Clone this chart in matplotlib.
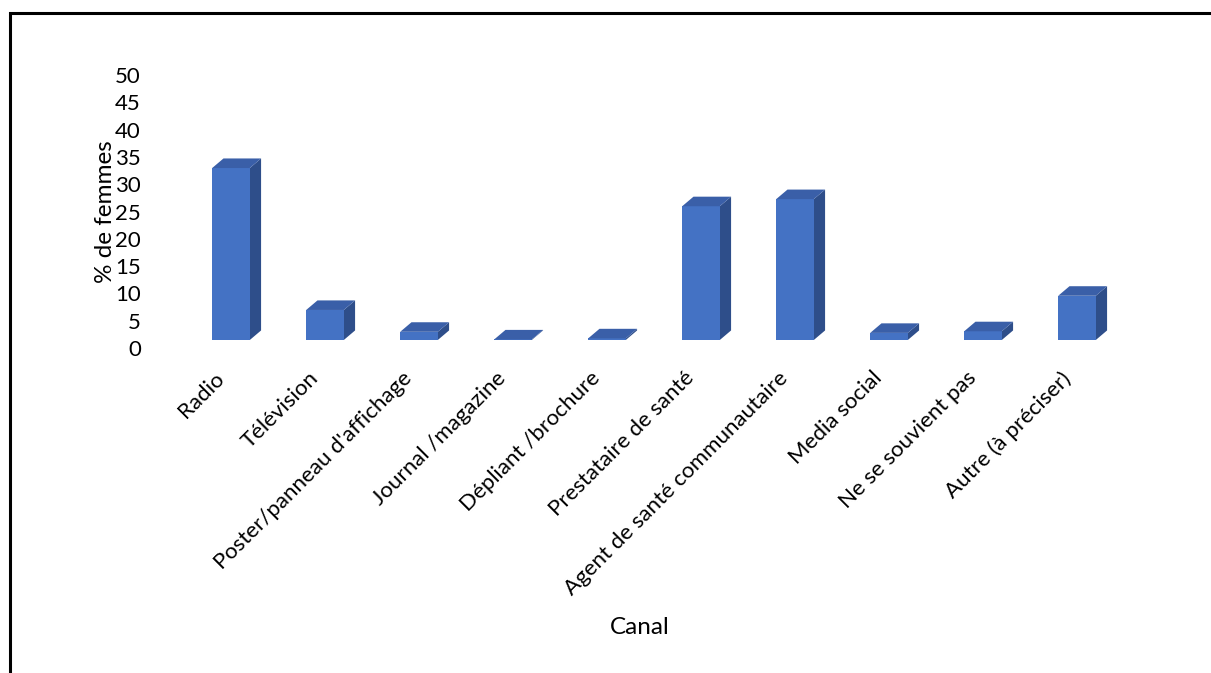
import numpy as np
import matplotlib.pyplot as plt
from matplotlib.patches import Polygon, Rectangle
from matplotlib.transforms import ScaledTranslation

plt.rcParams["font.family"] = ["Lato", "DejaVu Sans"]

canaux = [
    "Radio", "Télévision", "Poster/panneau d'affichage", "Journal /magazine",
    "Dépliant /brochure", "Prestataire de santé", "Agent de santé communautaire",
    "Media social", "Ne se souvient pas", "Autre (à préciser)",
]
pct_femmes = [31.5, 5.5, 1.5, 0.1, 0.3, 24.5, 25.8, 1.3, 1.6, 8.1]

y_ticks = np.arange(0, 55, 5)

front_col = "#4472C4"
top_col = "#3A5FA8"
side_col = "#2E4E8A"

W, H = 1211, 673
fig = plt.figure(figsize=(W / 100, H / 100), dpi=100)

# axes placed so categories sit ~94 px apart, 0..50 spans the value range
x0, x1 = 146.4, 1161.6
y_base, y_top = 340, 67
ax = fig.add_axes([x0 / W, 1 - y_base / H, (x1 - x0) / W, (y_base - y_top) / H])
ax.set_xlim(-0.9, 9.9)
ax.set_ylim(0, 50)

# value scale drawn on the back wall, a few pixels lower than the bar floor
off = 8
ax_val = fig.add_axes([x0 / W, 1 - (y_base + off) / H, (x1 - x0) / W,
                       (y_base - y_top) / H])
ax_val.set_ylim(0, 50)
ax_val.patch.set_visible(False)
ax_val.set_xticks([])
ax_val.set_yticks(y_ticks)
ax_val.set_yticklabels([str(t) for t in y_ticks], fontsize=16)
ax_val.tick_params(length=0, pad=4)
for s in ax_val.spines.values():
    s.set_visible(False)

bw = 0.40
dx = 0.12      # depth offset, x
dy = 1.75      # depth offset, y

x = np.arange(len(canaux))
ax.bar(x, pct_femmes, width=bw, color=front_col, zorder=3)
for xi, v in zip(x, pct_femmes):
    l, r = xi - bw / 2, xi + bw / 2
    side = Polygon([(r, 0), (r + dx, dy), (r + dx, v + dy), (r, v)],
                   closed=True, facecolor=side_col, edgecolor="none", zorder=2)
    top = Polygon([(l, v), (r, v), (r + dx, v + dy), (l + dx, v + dy)],
                  closed=True, facecolor=top_col, edgecolor="none", zorder=4)
    ax.add_patch(side)
    ax.add_patch(top)

for s in ax.spines.values():
    s.set_visible(False)
ax.set_xticks([])
ax.set_yticks([])

# category names, slanted under each bar
lab_trans = ax.get_xaxis_transform() + ScaledTranslation(-0.17, -0.28, fig.dpi_scale_trans)
for xi, name in zip(x, canaux):
    ax.text(xi, 0, name, transform=lab_trans, rotation=45, ha="right", va="top",
            rotation_mode="anchor", fontsize=16, clip_on=False)

fig.text(105 / W, 1 - 212 / H, "% de femmes", rotation=90, ha="center",
         va="center", fontsize=17.5)
fig.text(640 / W, 1 - 628 / H, "Canal", ha="center", va="center", fontsize=17.5)

# outer chart frame, cut off on the right and bottom
fig.patches.append(Rectangle((10 / W, -0.1), 1.2, 1 - 13 / H + 0.1,
                             transform=fig.transFigure, fill=False,
                             edgecolor="black", linewidth=2.2))

fig.savefig("out.png", dpi=100)
